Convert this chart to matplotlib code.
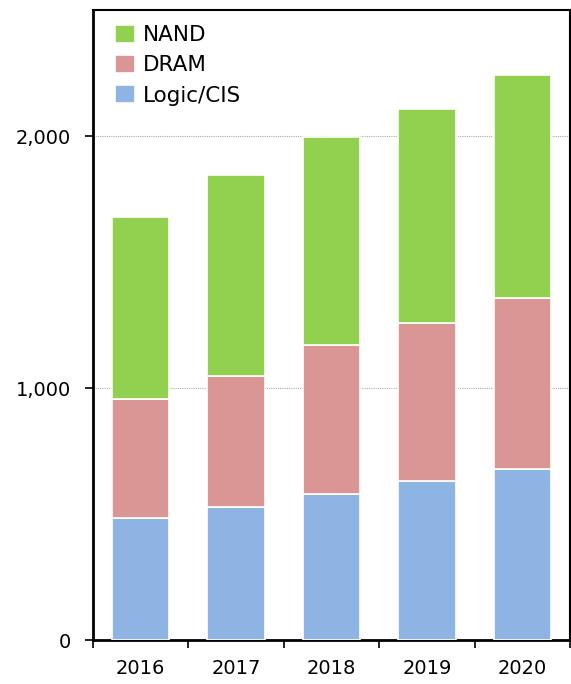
import matplotlib
matplotlib.use('Agg')
import matplotlib.pyplot as plt
from matplotlib.ticker import FuncFormatter, FixedLocator

# Data
years = ['2016', '2017', '2018', '2019', '2020']
logic_cis = [484, 528, 579, 631, 679]
dram = [472, 520, 592, 627, 678]
nand = [723, 797, 825, 849, 885]

c_nand = '#92D050'
c_dram = '#DA9694'
c_logic = '#8DB4E2'

fig = plt.figure(figsize=(5.71, 6.84), dpi=100)
ax = fig.add_axes([93 / 571, 44 / 684, 477 / 571, 630 / 684])

x = list(range(len(years)))
bottom2 = [a + b for a, b in zip(logic_cis, dram)]
b1 = ax.bar(x, logic_cis, width=0.6, color=c_logic, edgecolor='white', linewidth=1.2, zorder=3)
b2 = ax.bar(x, dram, width=0.6, bottom=logic_cis, color=c_dram, edgecolor='white', linewidth=1.2, zorder=3)
b3 = ax.bar(x, nand, width=0.6, bottom=bottom2, color=c_nand, edgecolor='white', linewidth=1.2, zorder=3)

ax.set_xlim(-0.5, len(years) - 0.5)
ax.set_ylim(0, 2500)

# y axis
ax.yaxis.set_major_locator(FixedLocator([0, 1000, 2000]))
ax.yaxis.set_major_formatter(FuncFormatter(lambda v, p: f'{int(v):,}'))
ax.grid(axis='y', color='#aaaaaa', linestyle=(0, (1, 1)), linewidth=0.8, zorder=0)
ax.tick_params(axis='y', length=6, width=1.2, labelsize=14, pad=10)

# x axis: ticks between categories, labels centered
ax.set_xticks([i - 0.5 for i in range(len(years) + 1)])
ax.set_xticklabels([])
ax.set_xticks(x, minor=True)
ax.set_xticklabels(years, minor=True, fontsize=14)
ax.tick_params(axis='x', which='major', length=6, width=1.2, direction='out')
ax.tick_params(axis='x', which='minor', length=0, pad=14)

for side in ['left', 'bottom']:
    ax.spines[side].set_linewidth(2)
for side in ['top', 'right']:
    ax.spines[side].set_linewidth(1.5)

leg = ax.legend([b3, b2, b1], ['NAND', 'DRAM', 'Logic/CIS'], loc='upper left',
                frameon=False, fontsize=15.5, handlelength=0.9, handleheight=0.9,
                handletextpad=0.4, labelspacing=0.45, borderaxespad=0.3,
                bbox_to_anchor=(0.015, 1.0))

plt.savefig('out.png', dpi=100)
